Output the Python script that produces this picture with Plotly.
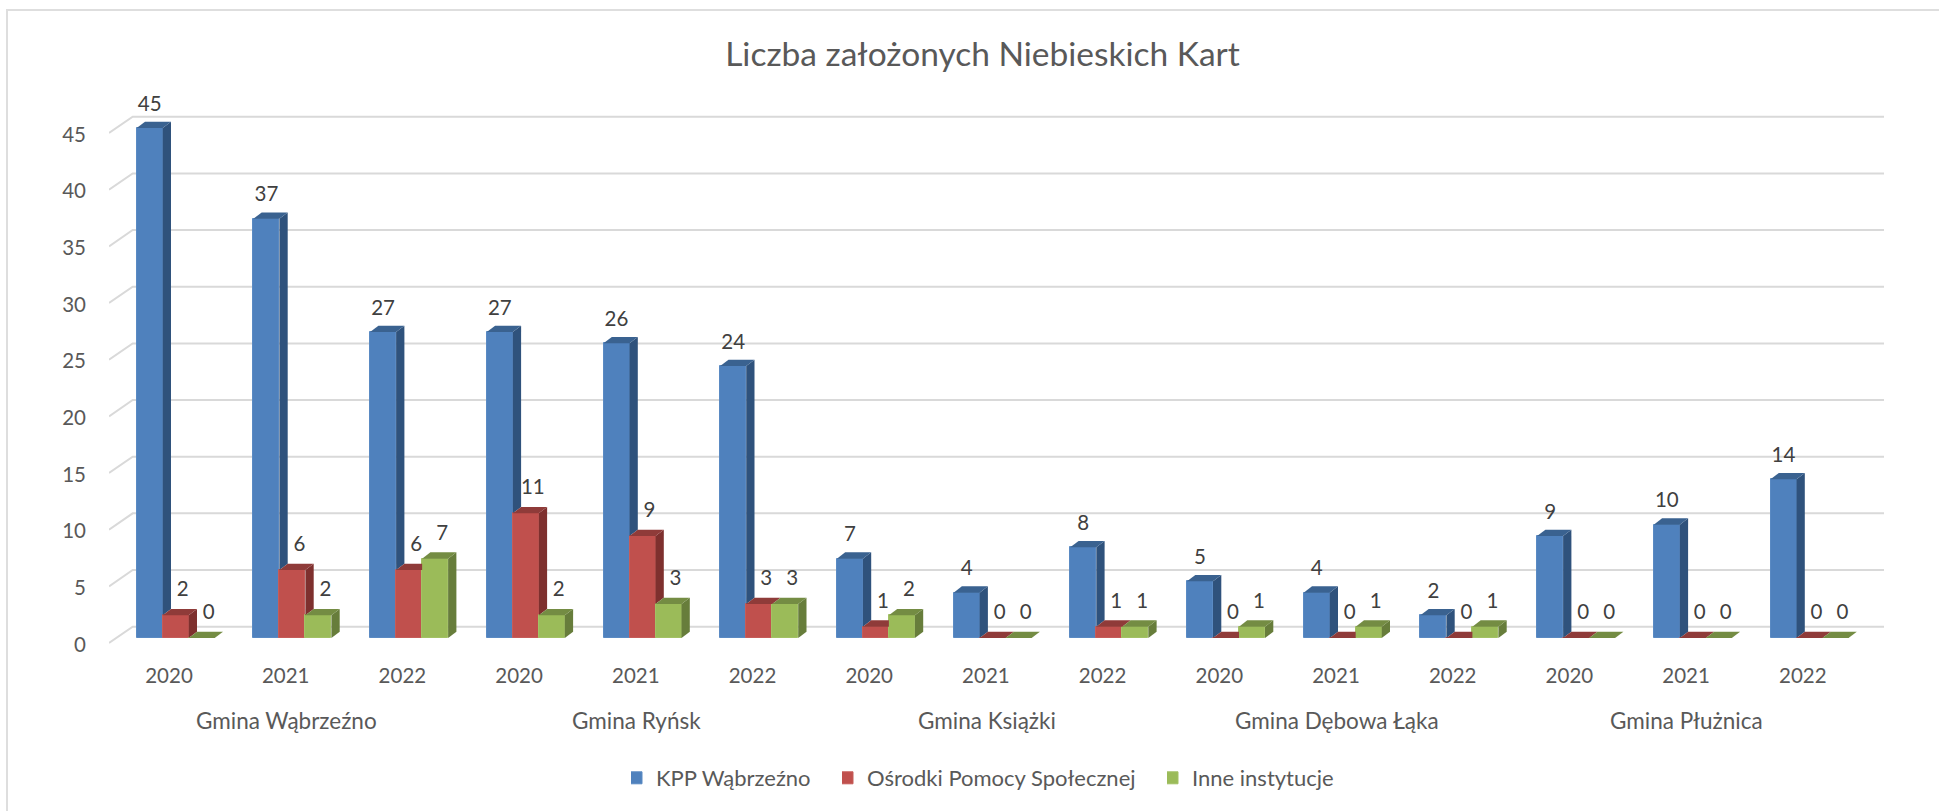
import plotly.graph_objects as go

TITLE = "Liczba założonych Niebieskich Kart"
gminas = ["Gmina Wąbrzeźno", "Gmina Ryńsk", "Gmina Książki", "Gmina Dębowa Łąka", "Gmina Płużnica"]
years = ["2020", "2021", "2022"]
series_names = ["KPP Wąbrzeźno", "Ośrodki Pomocy Społecznej", "Inne instytucje"]
kpp = [45, 37, 27, 27, 26, 24, 7, 4, 8, 5, 4, 2, 9, 10, 14]
ops = [2, 6, 6, 11, 9, 3, 1, 0, 1, 0, 0, 0, 0, 0, 0]
inne = [0, 2, 7, 2, 3, 3, 2, 0, 1, 1, 1, 1, 0, 0, 0]
y_ticks = [0, 5, 10, 15, 20, 25, 30, 35, 40, 45]

front = ["#4F81BD", "#C0504D", "#9BBB59"]
side = ["#2F527C", "#7E302E", "#677D3B"]
top = ["#3A6290", "#8F3B39", "#748C43"]
edge = ["#5A8AC3", "#C65C59", "#A3C165"]
GRID = "#D9D9D9"
FONT = "Lato, Carlito, Calibri, sans-serif"

# pixel geometry of the plot frame
W, H = 1939, 811
L, R, T, B = 109, 55, 100, 161
PX_X = 116.7          # pixels per category
PX_Y = 11.333         # pixels per unit of value
X0_PX, Y0_PX = 175.7, 638.0  # pixel of group 0 centre / of value 0
x_range = [(L - X0_PX) / PX_X, (W - R - X0_PX) / PX_X]
y_range = [(Y0_PX - (H - B)) / PX_Y, (Y0_PX - T) / PX_Y]

bw = 26 / PX_X        # bar width
dx = 8.3 / PX_X       # depth of a bar
dy = 6.3 / PX_Y
wall_x = x_range[0] + 23.7 / PX_X
wall_dy = 11.3 / PX_Y
tick_dy = 5.0 / PX_Y

all_vals = [kpp, ops, inne]
n = len(kpp)
xs = list(range(n))
legend_ids = ["legend", "legend2", "legend3"]
fig = go.Figure()

# front faces: real bars
for k, vals in enumerate(all_vals):
    fig.add_trace(go.Bar(
        x=[i + (k - 1) * bw for i in xs], y=vals, width=bw,
        marker=dict(color=front[k], line=dict(color=edge[k], width=1)),
        name=series_names[k], showlegend=True, legend=legend_ids[k], hoverinfo="skip"))


def poly(px, py, color):
    fig.add_trace(go.Scatter(x=px, y=py, mode="lines", fill="toself", fillcolor=color,
                             line=dict(width=0, color=color), showlegend=False, hoverinfo="skip"))


# side and top faces, derived from the same values; hidden parts removed
for i in xs:
    for k, vals in enumerate(all_vals):
        v = vals[i]
        nxt = all_vals[k + 1][i] if k < 2 else 0
        xl = i + (k - 1.5) * bw
        xr = xl + bw
        # right side
        if v > nxt:
            poly([xr, xr + dx, xr + dx, xr], [v, v + dy, nxt + dy, nxt], side[k])
        # top
        if nxt > v:
            poly([xl, xr, xr, xl + dx], [v, v, v + dy, v + dy], top[k])
        else:
            poly([xl, xr, xr + dx, xl + dx], [v, v, v + dy, v + dy], top[k])

# data labels
for k, vals in enumerate(all_vals):
    shift = 0 if k == 0 else 7 / PX_X
    lift = 22.5 if k == 0 else 24
    fig.add_trace(go.Scatter(
        x=[i + (k - 1) * bw + shift for i in xs], y=[v + lift / PX_Y for v in vals],
        mode="text", text=[str(v) for v in vals], textposition="middle center",
        textfont=dict(family=FONT, size=20.5, color="#404040"),
        showlegend=False, hoverinfo="skip", cliponaxis=False))

# back wall grid lines with the little floor step on the left
shapes = []
for v in y_ticks:
    shapes.append(dict(type="path", xref="x", yref="y", layer="below",
                       path=f"M {x_range[0]},{v - tick_dy} L {wall_x},{v + wall_dy} L {x_range[1]},{v + wall_dy}",
                       line=dict(color=GRID, width=2)))
# chart frame (left and top only are visible)
px = lambda p: (p - L) / (W - L - R)
py = lambda p: 1 - (p - T) / (H - T - B)
shapes.append(dict(type="path", xref="paper", yref="paper", layer="below",
                   path=f"M {px(7)},{py(811)} L {px(7)},{py(10)} L {px(1939)},{py(10)}",
                   line=dict(color="#DEDEDE", width=2)))

annotations = [dict(x=3 * g + 1 - 6 / PX_X, y=py(720), xref="x", yref="paper", text=name, showarrow=False,
                    yanchor="middle", xanchor="center", font=dict(family=FONT, size=22.5, color="#595959"))
               for g, name in enumerate(gminas)]

legend_style = dict(orientation="h", xref="container", xanchor="left", y=1 - 778 / H, yref="container",
                    yanchor="middle", indentation=-15, font=dict(family=FONT, size=22, color="#595959"))
legends = {"legend": dict(x=631 / W, **legend_style),
           "legend2": dict(x=842 / W, **legend_style),
           "legend3": dict(x=1167 / W, **legend_style)}

fig.update_layout(
    width=W, height=H, autosize=False,
    margin=dict(l=L, r=R, t=T, b=B, pad=0),
    paper_bgcolor="white", plot_bgcolor="white",
    barmode="overlay", bargap=0,
    title=dict(text=TITLE, x=(725 + 1240) / 2 / W, xanchor="center", y=1 - 54 / H, yanchor="middle",
               font=dict(family=FONT, size=33.5, color="#595959")),
    xaxis=dict(range=x_range, tickmode="array", tickvals=[i - 6.7 / PX_X for i in xs],
               ticktext=[years[i % 3] for i in xs], showgrid=False, zeroline=False, showline=False,
               ticks="", ticklabelstandoff=11, tickfont=dict(family=FONT, size=20.5, color="#595959")),
    yaxis=dict(range=y_range, tickmode="array", tickvals=[v - 6.5 / PX_Y for v in y_ticks],
               ticktext=[str(v) for v in y_ticks], showgrid=False, zeroline=False, showline=False,
               ticks="", ticklabelstandoff=22, tickfont=dict(family=FONT, size=20.5, color="#595959")),
    shapes=shapes, annotations=annotations,
    **legends,
)

fig.write_html("out.html", config={"displayModeBar": False},
               post_script="document.body.style.margin='0';document.body.style.overflow='hidden';")
